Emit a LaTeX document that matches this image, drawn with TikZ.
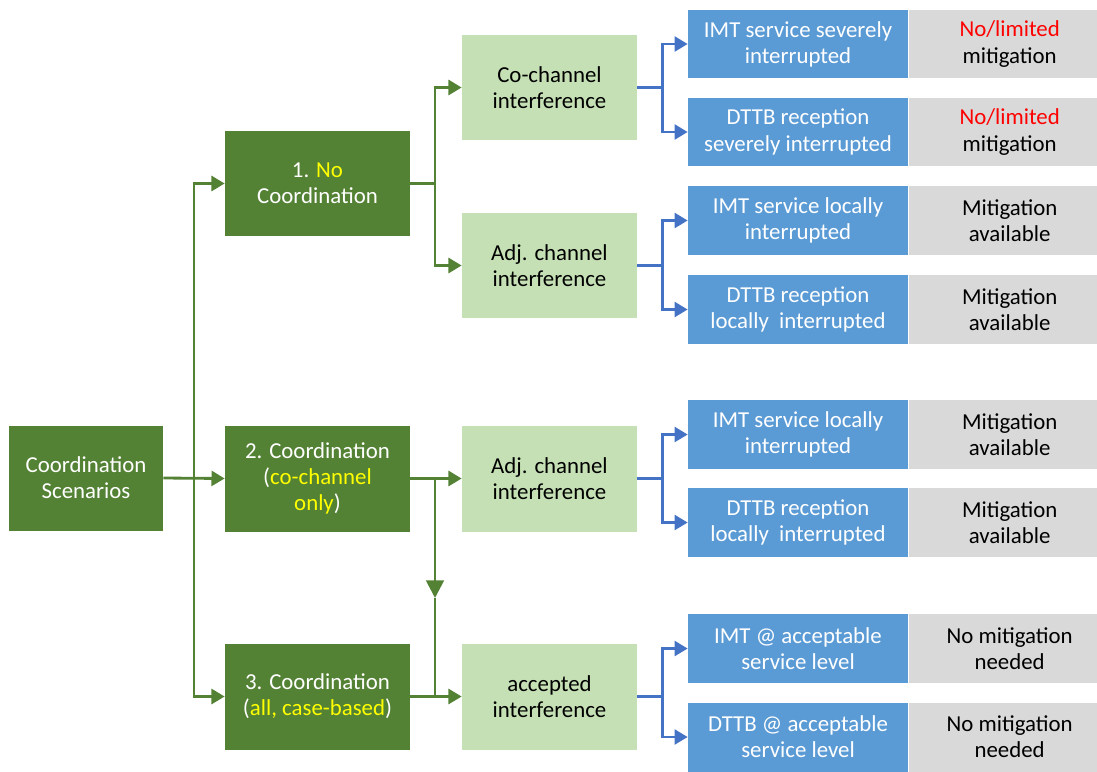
\documentclass[tikz,border=0pt]{standalone}
\usepackage{fontspec}
\setmainfont{Carlito}
\usepackage{xcolor}
\usepackage{tikz}
\usetikzlibrary{
    arrows.meta,
    positioning,
    calc
}
\definecolor{darkGreen}{RGB}{84,130,53}
\definecolor{paleGreen}{RGB}{197,224,180}
\definecolor{boxBlue}{RGB}{91,155,213}
\definecolor{lineBlue}{RGB}{68,114,196}
\definecolor{mitGray}{RGB}{217,217,217}
\definecolor{hiYellow}{RGB}{255,255,0}

\begin{document}
\begin{tikzpicture}[
    x=0.02cm,
    y=-0.02cm,
    font=\fontsize{13}{14.9}\selectfont,
    every node/.style={align=center, inner sep=0pt},
    scenario/.style={fill=darkGreen, text=white, minimum width=3.7cm, minimum height=2.12cm},
    rootbox/.style={fill=darkGreen, text=white, minimum width=3.08cm, minimum height=2.1cm},
    interf/.style={fill=paleGreen, text=black, minimum width=3.5cm, minimum height=2.12cm},
    effect/.style={fill=boxBlue, text=white, minimum width=4.4cm, minimum height=1.38cm},
    mitig/.style={fill=mitGray, text=black, minimum width=4.04cm, minimum height=1.38cm},
    gline/.style={darkGreen, line width=1.6pt},
    garrow/.style={gline, -{Triangle[length=7.5pt,width=8.5pt]}},
    bline/.style={lineBlue, line width=1.6pt},
    barrow/.style={bline, -{Triangle[length=7.5pt,width=8.5pt]}}
]

\useasboundingbox (0,0) rectangle (1097,771);

% =============================================================
% Root and coordination scenarios
% =============================================================

\node[rootbox] (root) at (86,478) {Coordination\\Scenarios};

\node[scenario] (sc1) at (317.5,183.5)
{1. \textcolor{hiYellow}{No}\\Coordination};

\node[scenario] (sc2) at (317.5,478.5)
{2. Coordination\\(\textcolor{hiYellow}{co-channel}\\\textcolor{hiYellow}{only})};

\node[scenario] (sc3) at (317.5,696.5)
{3. Coordination\\(\textcolor{hiYellow}{all, case-based})};

% Trunk from the root to the three scenarios
\coordinate (trunk) at (194,478);

\draw[garrow] (root.east) -- (sc2.west);
\draw[garrow] (trunk) |- (sc1.west);
\draw[garrow] (trunk) |- (sc3.west);

% =============================================================
% Kinds of interference
% =============================================================

\node[interf] (cochan) at (549.5,87.5) {Co-channel\\interference};
\node[interf] (adjA) at (549.5,265.5) {Adj. channel\\interference};
\node[interf] (adjB) at (549.5,478.5) {Adj. channel\\interference};
\node[interf] (accept) at (549.5,696.5) {accepted\\interference};

\coordinate (splitA) at (435,183.5);
\coordinate (splitB) at (435,478.5);
\coordinate (midB) at (435,598);
\coordinate (joinC) at (435,696.5);

\draw[gline] (sc1.east) -- (splitA);
\draw[garrow] (splitA) |- (cochan.west);
\draw[garrow] (splitA) |- (adjA.west);

\draw[garrow] (sc2.east) -- (adjB.west);
\draw[gline, -{Triangle[length=10pt,width=10pt]}] (splitB) -- (midB);
\draw[gline] (midB) -- (joinC);

\draw[garrow] (sc3.east) -- (accept.west);

% =============================================================
% Effects and mitigation
% =============================================================

\node[effect] (effA) at (798,44) {IMT service severely\\interrupted};
\node[mitig, right=0pt of effA] (effA-m) {\textcolor{red}{No/limited}\\mitigation};

\node[effect] (effB) at (798,132) {DTTB reception\\severely interrupted};
\node[mitig, right=0pt of effB] (effB-m) {\textcolor{red}{No/limited}\\mitigation};

\node[effect] (effC) at (798,220.5) {IMT service locally\\interrupted};
\node[mitig, right=0pt of effC] (effC-m) {Mitigation\\available};

\node[effect] (effD) at (798,309.5) {DTTB reception\\locally~ interrupted};
\node[mitig, right=0pt of effD] (effD-m) {Mitigation\\available};

\node[effect] (effE) at (798,434.5) {IMT service locally\\interrupted};
\node[mitig, right=0pt of effE] (effE-m) {Mitigation\\available};

\node[effect] (effF) at (798,522.5) {DTTB reception\\locally~ interrupted};
\node[mitig, right=0pt of effF] (effF-m) {Mitigation\\available};

\node[effect] (effG) at (798,648.5) {IMT @ acceptable\\service level};
\node[mitig, right=0pt of effG] (effG-m) {No mitigation\\needed};

\node[effect] (effH) at (798,737) {DTTB @ acceptable\\service level};
\node[mitig, right=0pt of effH] (effH-m) {No mitigation\\needed};

% Blue branches from each kind of interference
\coordinate (cochan-s) at ($(cochan.east)+(25,0)$);
\coordinate (adjA-s) at ($(adjA.east)+(25,0)$);
\coordinate (adjB-s) at ($(adjB.east)+(25,0)$);
\coordinate (accept-s) at ($(accept.east)+(25,0)$);

\foreach \src/\first/\second in {cochan/effA/effB, adjA/effC/effD, adjB/effE/effF, accept/effG/effH}{
    \draw[bline] (\src.east) -- (\src-s);
    \draw[barrow] (\src-s) |- (\first.west);
    \draw[barrow] (\src-s) |- (\second.west);
}

\end{tikzpicture}
\end{document}
